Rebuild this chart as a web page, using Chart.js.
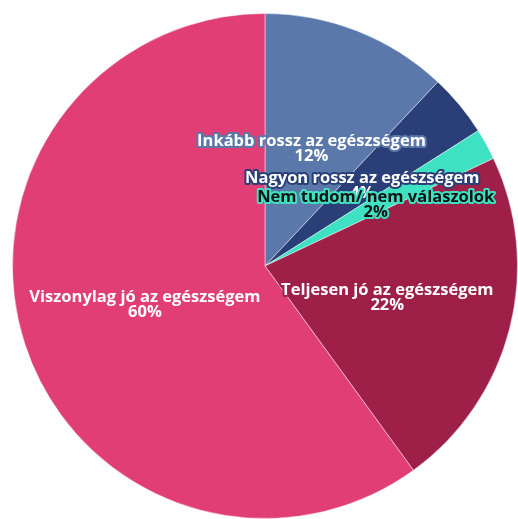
<!DOCTYPE html>
<html>
<head>
<meta charset="utf-8">
<script src="https://cdn.jsdelivr.net/npm/chart.js@4"></script>
<style>
  html, body { margin: 0; padding: 0; background: #fff; }
  #wrap { width: 518px; height: 519px; }
</style>
</head>
<body>
<div id="wrap"><canvas id="chart"></canvas></div>
<script>
const labels = [
  'Inkább rossz az egészségem',
  'Nagyon rossz az egészségem',
  'Nem tudom/ nem válaszolok',
  'Teljesen jó az egészségem',
  'Viszonylag jó az egészségem',
];
const values = [12, 4, 2, 22, 60];
const colors = ['#5b78aa', '#2a3f78', '#3ee2c2', '#9e1f47', '#e03e74'];
const textColors = ['#fff', '#fff', '#111', '#fff', '#fff'];

// label + percent drawn in the middle of each slice, outlined in the slice colour
const sliceLabels = {
  id: 'sliceLabels',
  afterDatasetsDraw(chart) {
    const { ctx } = chart;
    const meta = chart.getDatasetMeta(0);
    ctx.save();
    ctx.font = 'bold 16.5px "Open Sans", sans-serif';
    ctx.textAlign = 'center';
    ctx.textBaseline = 'middle';
    ctx.lineJoin = 'round';
    meta.data.forEach((arc, i) => {
      const { x, y, startAngle, endAngle, outerRadius } = arc.getProps(['x', 'y', 'startAngle', 'endAngle', 'outerRadius'], true);
      const mid = (startAngle + endAngle) / 2;
      const px = x + Math.cos(mid) * outerRadius / 2;
      const py = y + Math.sin(mid) * outerRadius / 2;
      const lines = [labels[i], values[i] + '%'];
      lines.forEach((t, k) => {
        const ly = py + (k - 0.5) * 15;
        ctx.lineWidth = 4;
        ctx.strokeStyle = colors[i];
        ctx.strokeText(t, px, ly);
        ctx.fillStyle = textColors[i];
        ctx.fillText(t, px, ly);
      });
    });
    ctx.restore();
  },
};

new Chart(document.getElementById('chart'), {
  type: 'pie',
  data: {
    labels,
    datasets: [{
      data: values,
      backgroundColor: colors,
      borderColor: 'rgba(255,255,255,0.45)',
      borderWidth: 1,
    }],
  },
  options: {
    responsive: true,
    maintainAspectRatio: false,
    animation: false,
    layout: { padding: { left: 12, right: 0, top: 13, bottom: 0 } },
    plugins: {
      legend: { display: false },
      tooltip: { enabled: false },
    },
  },
  plugins: [sliceLabels],
});
</script>
</body>
</html>
